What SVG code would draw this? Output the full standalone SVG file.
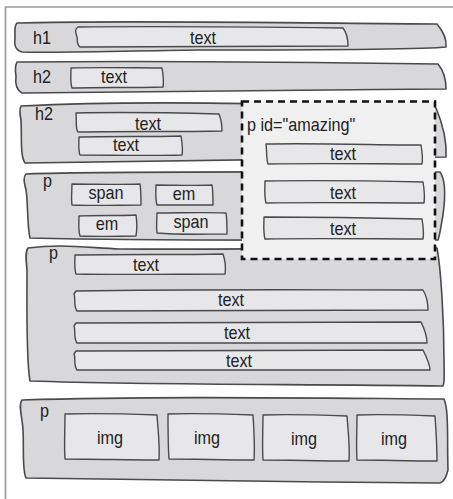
<svg xmlns="http://www.w3.org/2000/svg" width="453" height="499" viewBox="0 0 453 499">
<style>
.bar{fill:#d8d8da;stroke:#4a4a4a;stroke-width:1.6;stroke-linejoin:round}
.box{fill:#e7e7e9;stroke:#4a4a4a;stroke-width:1.4;stroke-linejoin:round}
.frame{fill:none;stroke:#9a9a9a;stroke-width:1.6}
.dash{fill:#eff0ef;stroke:#111;stroke-width:2.6;stroke-dasharray:7 5}
text{font-family:"Liberation Sans",Arial,sans-serif;font-size:18px;fill:#222}
.c{text-anchor:middle}
</style>
<path class="frame" d="M460,7 L5.5,7 L5.5,505"/>
<g id="h1">
<path class="bar" d="M17,23 C120,20 300,23 437,24 C442,30 447,38 446,47 C430,49 300,50 200,50 C120,51 50,53 22,52 C15,50 14,45 15,38 C15,30 14,26 17,23 Z"/>
<path class="box" d="M78,27 C150,26 260,27 343,28 C346,32 348,40 348,46 C280,47 180,46 80,47 C76,44 78,40 77,37 C76,33 74,30 78,27 Z"/>
<text transform="translate(33,44) scale(0.9,1)">h1</text>
<text class="c" transform="translate(203,44) scale(0.9,1)">text</text>
</g>
<g id="h2a">
<path class="bar" d="M17,62 C120,61 300,62 438,64 C443,70 446,80 446,89 C300,90 150,91 22,93 C16,90 15,84 16,76 C15,70 15,66 17,62 Z"/>
<path class="box" d="M71,68 C100,67 140,68 162,68 C163,74 164,82 163,87 C130,88 100,87 72,88 C70,82 71,74 71,68 Z"/>
<text transform="translate(33,83) scale(0.9,1)">h2</text>
<text class="c" transform="translate(114,83) scale(0.9,1)">text</text>
</g>
<g id="h2b">
<path class="bar" d="M21,106 C100,102 200,101 436,108 C441,120 447,140 446,157 C300,159 150,161 25,163 C20,155 22,140 21,120 C20,115 19,110 21,106 Z"/>
<path class="box" d="M76,113 C120,112 180,113 219,114 C221,119 222,126 222,131 C180,132 120,131 78,132 C75,128 77,122 76,113 Z"/>
<path class="box" d="M79,137 C110,136 150,137 181,136 C182,142 183,150 182,155 C150,156 110,155 80,155 C78,150 79,142 79,137 Z"/>
<text transform="translate(35,120) scale(0.9,1)">h2</text>
<text class="c" transform="translate(148,130) scale(0.9,1)">text</text>
<text class="c" transform="translate(126,151) scale(0.9,1)">text</text>
</g>
<g id="p-inline">
<path class="bar" d="M26,174 C100,171 250,172 440,172 C446,180 445,200 443,215 C441,225 440,235 438,240 C300,240 150,241 30,238 C27,225 28,200 26,190 C24,182 23,177 26,174 Z"/>
<path class="box" d="M72,184 C95,184 120,185 140,184 C141,190 141,198 141,205 C120,205 95,206 72,205 C71,198 72,190 72,184 Z"/>
<path class="box" d="M156,185 C175,185 195,186 212,185 C213,191 213,199 213,205 C195,205 175,205 157,205 C155,198 156,191 156,185 Z"/>
<path class="box" d="M79,216 C100,215 120,216 136,215 C137,222 137,230 136,236 C120,236 100,237 80,236 C78,229 79,222 79,216 Z"/>
<path class="box" d="M157,213 C180,213 205,212 226,213 C227,219 227,228 227,234 C205,234 180,235 157,233 C156,226 157,219 157,213 Z"/>
<text transform="translate(43,187) scale(0.9,1)">p</text>
<text class="c" transform="translate(106,199) scale(0.9,1)">span</text>
<text class="c" transform="translate(184,200) scale(0.9,1)">em</text>
<text class="c" transform="translate(107,230) scale(0.9,1)">em</text>
<text class="c" transform="translate(191,228) scale(0.9,1)">span</text>
</g>
<g id="p-text">
<path class="bar" d="M28,248 C60,244 80,247 120,249 C250,250 350,247 437,248 C441,270 444,320 444,360 C444,375 445,382 443,386 C300,384 150,385 30,381 C26,360 27,300 27,270 C26,260 25,252 28,248 Z"/>
<path class="box" d="M75,255 C120,254 180,255 223,254 C225,260 226,268 225,274 C180,274 120,275 76,274 C74,268 75,261 75,255 Z"/>
<path class="box" d="M76,291 C200,289 320,290 423,290 C426,295 428,302 428,310 C320,311 200,310 77,311 C73,305 76,298 74,294 Z"/>
<path class="box" d="M76,323 C200,322 320,322 421,322 C424,328 427,336 427,343 C320,343 200,342 77,343 C73,337 76,330 74,326 Z"/>
<path class="box" d="M76,351 C200,350 320,350 423,350 C426,356 430,364 430,370 C320,370 200,369 77,370 C73,364 76,357 74,354 Z"/>
<text transform="translate(49,259) scale(0.9,1)">p</text>
<text class="c" transform="translate(146,271) scale(0.9,1)">text</text>
<text class="c" transform="translate(231,306) scale(0.9,1)">text</text>
<text class="c" transform="translate(237,339) scale(0.9,1)">text</text>
<text class="c" transform="translate(239,367) scale(0.9,1)">text</text>
</g>
<g id="amazing">
<rect class="dash" x="242" y="101.5" width="193" height="157.5"/>
<path class="box" d="M266,144 C320,143 380,145 421,145 C422,151 423,158 422,164 C380,164 320,163 268,164 C266,158 267,150 266,144 Z"/>
<path class="box" d="M265,181 C320,180 380,181 423,182 C424,188 425,196 424,203 C380,203 320,202 266,203 C264,196 265,188 265,181 Z"/>
<path class="box" d="M264,217 C320,217 380,218 422,219 C423,225 424,233 423,239 C380,239 320,238 265,239 C263,232 264,224 264,217 Z"/>
<text transform="translate(247,131) scale(0.9,1)">p id="amazing"</text>
<text class="c" transform="translate(343,160) scale(0.9,1)">text</text>
<text class="c" transform="translate(343,199) scale(0.9,1)">text</text>
<text class="c" transform="translate(343,235) scale(0.9,1)">text</text>
</g>
<g id="p-img">
<path class="bar" d="M22,400 C150,396 300,398 444,399 C449,410 447,440 448,470 C446,478 444,482 440,483 C300,482 150,480 26,478 C22,470 24,450 23,430 C22,415 18,405 22,400 Z"/>
<path class="box" d="M65,414 C95,413 130,414 157,415 C158,430 160,445 159,460 C130,460 95,459 65,459 C64,445 65,430 65,414 Z"/>
<path class="box" d="M168,414 C195,413 225,414 253,415 C254,430 255,445 254,460 C225,460 195,459 169,459 C168,445 168,430 168,414 Z"/>
<path class="box" d="M263,415 C290,414 320,415 347,416 C348,430 350,445 349,461 C320,461 290,460 263,460 C262,445 263,430 263,415 Z"/>
<path class="box" d="M357,415 C380,414 410,415 435,416 C436,430 437,445 437,461 C410,461 380,460 357,460 C356,445 357,430 357,415 Z"/>
<text transform="translate(40,417) scale(0.9,1)">p</text>
<text class="c" transform="translate(110,444) scale(0.9,1)">img</text>
<text class="c" transform="translate(207,444) scale(0.9,1)">img</text>
<text class="c" transform="translate(304,445) scale(0.9,1)">img</text>
<text class="c" transform="translate(394,445) scale(0.9,1)">img</text>
</g>
</svg>
